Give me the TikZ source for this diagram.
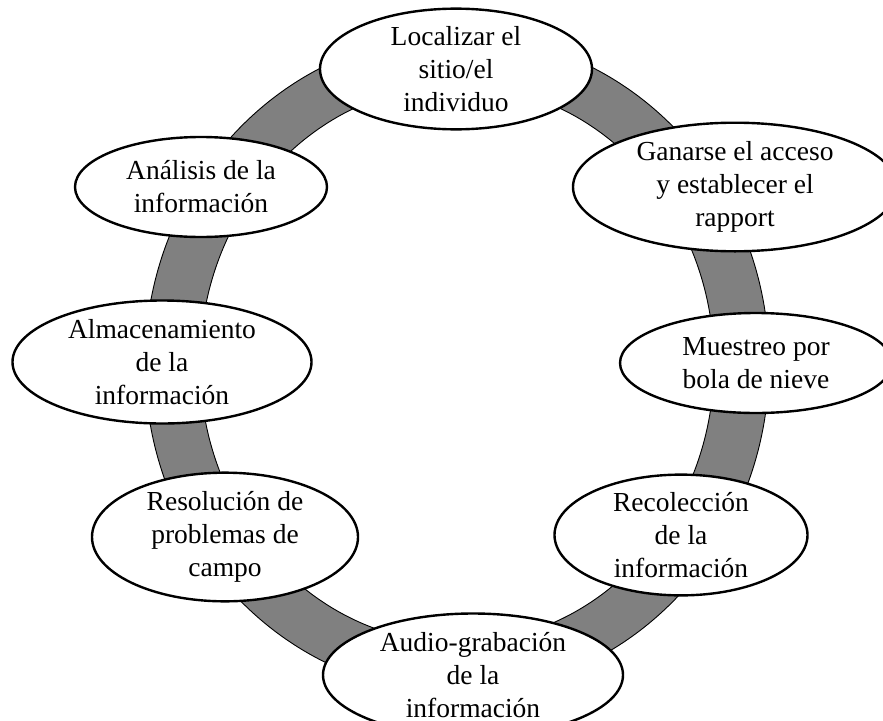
\documentclass[tikz,border=0pt]{standalone}
\usepackage{fontspec}
\setmainfont{Liberation Serif}
\usetikzlibrary{shapes.geometric}
\begin{document}
\begin{tikzpicture}[x=1pt,y=-1pt,
  stage/.style={ellipse, draw=black, line width=2.4pt, fill=white, inner sep=0pt,
    align=center, font=\fontsize{27.5}{33}\selectfont},
  ringfill/.style={fill={rgb,255:red,128;green,128;blue,128}, draw=black, line width=0.9pt, even odd rule}]
\clip (0,0) rectangle (883,720);
\fill[white] (0,0) rectangle (883,720);
\coordinate (c) at (457,364);
\path[ringfill] (c) ellipse [x radius=312pt, y radius=329pt]
                (c) ellipse [x radius=257pt, y radius=279pt];
\node[stage, minimum width=272pt, minimum height=112pt] (loc) at (456,69) {Localizar el\\sitio/el\\individuo};
\node[stage, minimum width=324pt, minimum height=123pt] (gan) at (735,187) {Ganarse el acceso\\y establecer el\\rapport};
\node[stage, minimum width=272pt, minimum height=100pt] (mue) at (756,363) {Muestreo por\\bola de nieve};
\node[stage, minimum width=253pt, minimum height=106pt] (rec) at (681,535) {Recolección\\de la\\información};
\node[stage, minimum width=300pt, minimum height=123pt] (aud) at (473,675) {Audio-grabación\\de la\\información};
\node[stage, minimum width=266pt, minimum height=123pt] (res) at (225,537) {Resolución de\\problemas de\\campo};
\node[stage, minimum width=299pt, minimum height=123pt] (alm) at (162,362) {Almacenamiento\\de la\\información};
\node[stage, minimum width=252pt, minimum height=100pt] (ana) at (201,187) {Análisis de la\\información};
\end{tikzpicture}
\end{document}
